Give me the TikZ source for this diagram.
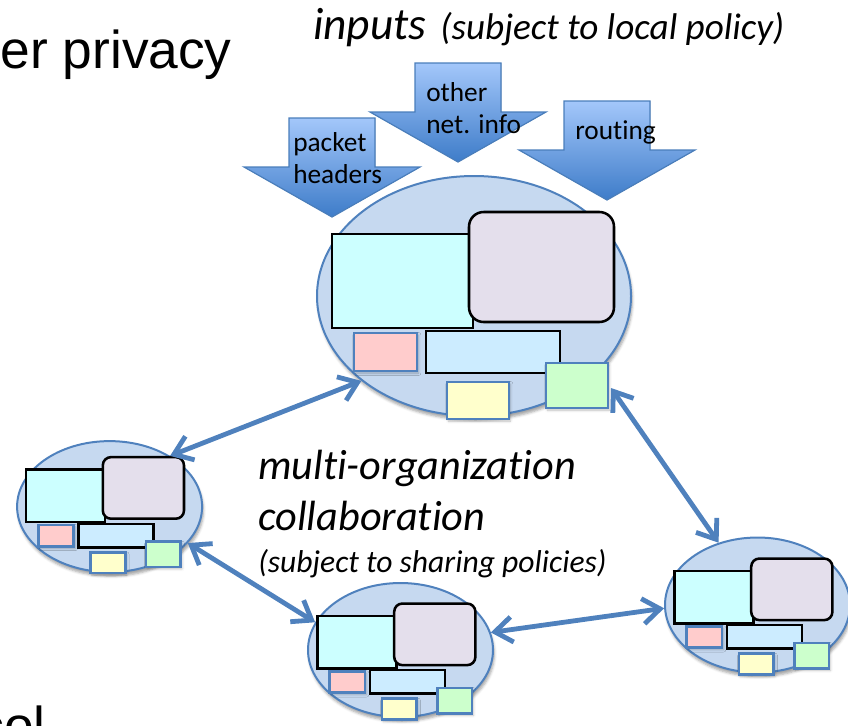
\documentclass[tikz,border=0pt]{standalone}
\usepackage{fontspec}
\setmainfont{Carlito}[Ligatures=NoCommon]
\newfontfamily\arialfont{Liberation Sans}
\usepackage{tikz}
\usetikzlibrary{arrows.meta,shapes.geometric,shadows.blur}

\definecolor{orgfill}{RGB}{198,217,240}
\definecolor{orgline}{RGB}{79,129,189}
\definecolor{arrline}{RGB}{74,126,187}
\definecolor{arrtop}{RGB}{163,199,250}
\definecolor{arrbot}{RGB}{62,124,201}
\definecolor{cyanf}{RGB}{204,255,255}
\definecolor{lavf}{RGB}{228,223,236}
\definecolor{pinkf}{RGB}{255,204,204}
\definecolor{skyf}{RGB}{204,236,255}
\definecolor{yelf}{RGB}{255,255,204}
\definecolor{grnf}{RGB}{204,255,204}

\begin{document}
\begin{tikzpicture}[x=0.75pt,y=-0.75pt]
\tikzstyle{org}=[ellipse, draw=orgline, line width=1.5pt, fill=orgfill, inner sep=0pt, blur shadow={shadow xshift=1pt, shadow yshift=-3pt, shadow opacity=35}]
\tikzstyle{bigbox}=[draw=black, line width=1.9pt]
\tikzstyle{smallbox}=[draw=orgline, line width=2pt, blur shadow={shadow xshift=1pt, shadow yshift=-1.5pt, shadow opacity=25}]
\tikzstyle{link}=[draw=orgline, line width=3.6pt, arrows={Straight Barb[length=13pt,width=19pt]-Straight Barb[length=13pt,width=19pt]}]
\tikzstyle{inarrow}=[draw=arrline, line width=0.9pt, top color=arrtop, bottom color=arrbot]
\tikzstyle{lbl}=[inner sep=0pt, align=left, font=\fontsize{20.5}{24.5}\selectfont]
\tikzstyle{txt}=[inner sep=0pt, anchor=base west]
\useasboundingbox (0,0) rectangle (848,725);
%1
\def\r{474};
\def\u{295};
\def\s{1};
\node[org, minimum width=235.5pt, minimum height=180pt] (o1) at (\r,\u+1) {};
\filldraw[bigbox, fill=cyanf] (\r-142*\s,\u-61*\s) rectangle (\r-1*\s,\u+33*\s);
\filldraw[bigbox, fill=lavf, rounded corners=11pt*\s] (\r-5*\s,\u-83*\s) rectangle (\r+140*\s,\u+27*\s);
\filldraw[smallbox, fill=pinkf] (\r-120*\s,\u+38*\s) rectangle (\r-57*\s,\u+76*\s);
\filldraw[bigbox, fill=skyf] (\r-48*\s,\u+36*\s) rectangle (\r+86*\s,\u+78*\s);
\filldraw[smallbox, fill=yelf] (\r-27*\s,\u+87*\s) rectangle (\r+35*\s,\u+124*\s);
\filldraw[smallbox, fill=grnf] (\r+72*\s,\u+68*\s) rectangle (\r+134*\s,\u+113*\s);
\coordinate (g1) at (\r+137*\s,\u+93*\s);
%2
\def\r{105.6};
\def\u{503.6};
\def\s{0.56};
\node[org, minimum width=138.75pt, minimum height=98.25pt] (o2) at (\r+4,\u+3) {};
\filldraw[bigbox, fill=cyanf] (\r-142*\s,\u-61*\s) rectangle (\r-1*\s,\u+33*\s);
\filldraw[bigbox, fill=lavf, rounded corners=11pt*\s] (\r-5*\s,\u-83*\s) rectangle (\r+140*\s,\u+27*\s);
\filldraw[smallbox, fill=pinkf] (\r-120*\s,\u+38*\s) rectangle (\r-57*\s,\u+76*\s);
\filldraw[bigbox, fill=skyf] (\r-48*\s,\u+36*\s) rectangle (\r+86*\s,\u+78*\s);
\filldraw[smallbox, fill=yelf] (\r-27*\s,\u+87*\s) rectangle (\r+35*\s,\u+124*\s);
\filldraw[smallbox, fill=grnf] (\r+72*\s,\u+68*\s) rectangle (\r+134*\s,\u+113*\s);
%3
\def\r{397};
\def\u{650};
\def\s{0.56};
\node[org, minimum width=138.75pt, minimum height=100.5pt] (o3) at (\r+3.5,\u) {};
\filldraw[bigbox, fill=cyanf] (\r-142*\s,\u-61*\s) rectangle (\r-1*\s,\u+33*\s);
\filldraw[bigbox, fill=lavf, rounded corners=11pt*\s] (\r-5*\s,\u-83*\s) rectangle (\r+140*\s,\u+27*\s);
\filldraw[smallbox, fill=pinkf] (\r-120*\s,\u+38*\s) rectangle (\r-57*\s,\u+76*\s);
\filldraw[bigbox, fill=skyf] (\r-48*\s,\u+36*\s) rectangle (\r+86*\s,\u+78*\s);
\filldraw[smallbox, fill=yelf] (\r-27*\s,\u+87*\s) rectangle (\r+35*\s,\u+124*\s);
\filldraw[smallbox, fill=grnf] (\r+72*\s,\u+68*\s) rectangle (\r+134*\s,\u+113*\s);
%4
\def\r{754};
\def\u{605};
\def\s{0.56};
\node[org, minimum width=138.75pt, minimum height=101.25pt] (o4) at (\r+3.5,\u) {};
\filldraw[bigbox, fill=cyanf] (\r-142*\s,\u-61*\s) rectangle (\r-1*\s,\u+33*\s);
\filldraw[bigbox, fill=lavf, rounded corners=11pt*\s] (\r-5*\s,\u-83*\s) rectangle (\r+140*\s,\u+27*\s);
\filldraw[smallbox, fill=pinkf] (\r-120*\s,\u+38*\s) rectangle (\r-57*\s,\u+76*\s);
\filldraw[bigbox, fill=skyf] (\r-48*\s,\u+36*\s) rectangle (\r+86*\s,\u+78*\s);
\filldraw[smallbox, fill=yelf] (\r-27*\s,\u+87*\s) rectangle (\r+35*\s,\u+124*\s);
\filldraw[smallbox, fill=grnf] (\r+72*\s,\u+68*\s) rectangle (\r+134*\s,\u+113*\s);
%inputs
\def\r{332};
\def\u{217};
\filldraw[inarrow] (\r-43,\u-99) -- (\r+43,\u-99) -- (\r+43,\u-50) -- (\r+88,\u-50) -- (\r,\u) -- (\r-88,\u-50) -- (\r-43,\u-50) -- cycle;
\node[lbl, anchor=west] (pkt) at (293,158) {packet\\headers};
\def\r{458};
\def\u{162};
\filldraw[inarrow] (\r-43,\u-99) -- (\r+43,\u-99) -- (\r+43,\u-50) -- (\r+88,\u-50) -- (\r,\u) -- (\r-88,\u-50) -- (\r-43,\u-50) -- cycle;
\node[lbl, anchor=west] (net) at (426,108) {other\\net. info};
\def\r{607};
\def\u{200};
\filldraw[inarrow] (\r-43,\u-99) -- (\r+43,\u-99) -- (\r+43,\u-50) -- (\r+88,\u-50) -- (\r,\u) -- (\r-88,\u-50) -- (\r-43,\u-50) -- cycle;
\node[lbl, anchor=base west] (rt) at (575,139) {routing};
%links
\draw[link] (o2.40) -- (o1.217);
\draw[link] (g1) -- (o4.122);
\draw[link] (o2.-25) -- (o3.162);
\draw[link] (o3.11) -- (o4.182);
%texts
\node[txt, font=\itshape\fontsize{34}{40}\selectfont] (inp) at (313,39) {inputs};
\node[txt, font=\itshape\fontsize{27.9}{32}\selectfont] (pol) at (440,39) {(subject to local policy)};
\node[txt, font=\itshape\fontsize{31.7}{38}\selectfont] (mo) at (258,479) {multi-organization};
\node[txt, font=\itshape\fontsize{31.7}{38}\selectfont] (co) at (258,530) {collaboration};
\node[txt, font=\itshape\fontsize{23.7}{28}\selectfont] (sh) at (258,572) {(subject to sharing policies)};
\node[inner sep=0pt, anchor=base east, font=\arialfont\fontsize{40}{46}\selectfont] (priv) at (232,68) {ser privacy};
\node[inner sep=0pt, anchor=base east, font=\arialfont\fontsize{40}{46}\selectfont] (col) at (46,744) {col};
\end{tikzpicture}
\end{document}
